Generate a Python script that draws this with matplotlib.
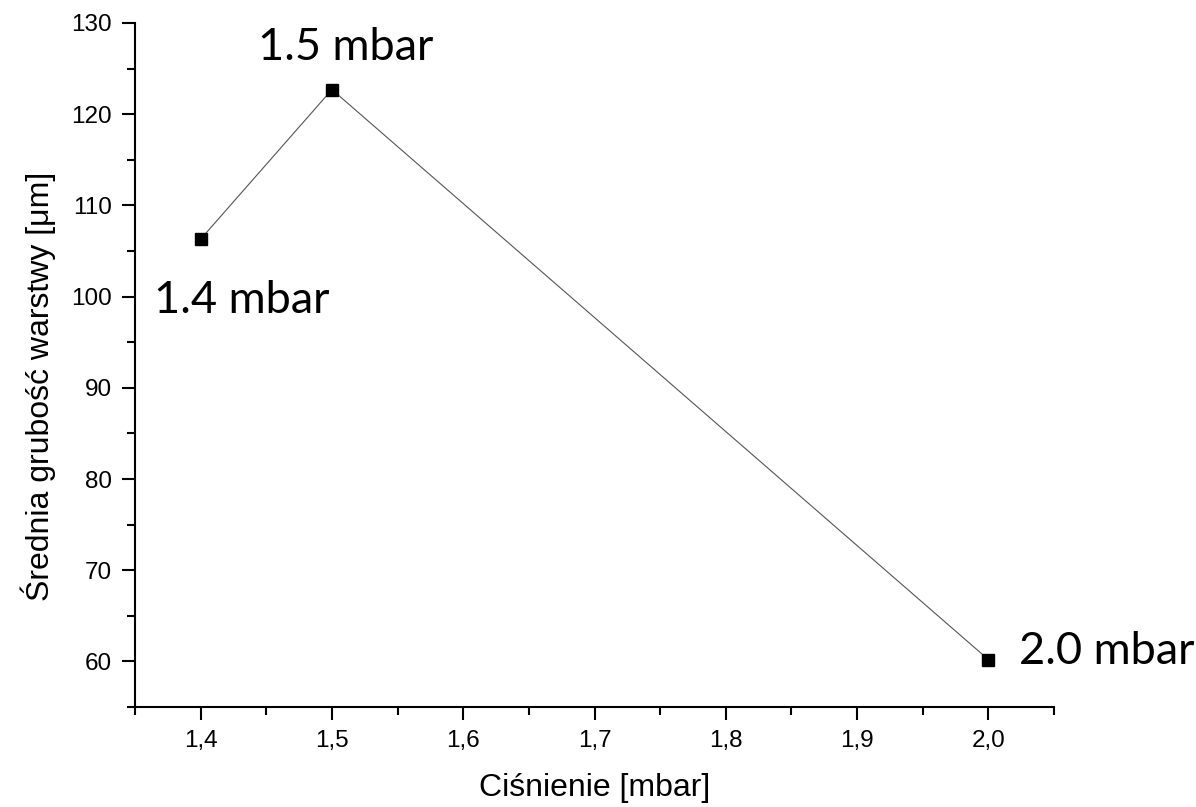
import matplotlib
matplotlib.use("Agg")
import matplotlib.pyplot as plt
from matplotlib.ticker import MultipleLocator, FuncFormatter

pressure = [1.4, 1.5, 2.0]
thickness = [106.3, 122.7, 60.2]
point_labels = ["1.4 mbar", "1.5 mbar", "2.0 mbar"]
# label offsets in pixels from each point (dx, dy)
label_offsets = [(41, -61), (14, 42), (31, 8)]
label_align = ["center", "center", "left"]

plt.rcParams["font.family"] = ["Liberation Sans", "DejaVu Sans"]

fig = plt.figure(figsize=(11.96, 8.07), dpi=100)
ax = fig.add_axes([0.1129, 0.1239, 0.7684, 0.8476])

ax.plot(pressure, thickness, color="#555555", linewidth=0.8, marker="s",
        markersize=9, markerfacecolor="black", markeredgecolor="black")

for x, y, text, (dx, dy), ha in zip(pressure, thickness, point_labels, label_offsets, label_align):
    ax.annotate(text, (x, y), xytext=(dx, dy), textcoords="offset pixels",
                ha=ha, va="center", fontsize=32.5, family=["Lato", "DejaVu Sans"])

ax.set_xlim(1.35, 2.05)
ax.set_ylim(55, 130)
ax.xaxis.set_major_locator(MultipleLocator(0.1))
ax.xaxis.set_minor_locator(MultipleLocator(0.05))
ax.yaxis.set_major_locator(MultipleLocator(10))
ax.yaxis.set_minor_locator(MultipleLocator(5))
ax.xaxis.set_major_formatter(FuncFormatter(lambda v, p: f"{v:.1f}".replace(".", ",")))
ax.yaxis.set_major_formatter(FuncFormatter(lambda v, p: f"{v:.0f}"))

for side in ("top", "right"):
    ax.spines[side].set_visible(False)
for side in ("left", "bottom"):
    ax.spines[side].set_linewidth(1.5)

ax.tick_params(which="major", direction="out", length=9.5, width=1.5, labelsize=17.5, pad=7)
ax.tick_params(which="minor", direction="out", length=5.5, width=1.5)

ax.set_xlabel("Ciśnienie [mbar]", fontsize=23, labelpad=15)
ax.set_ylabel("Średnia grubość warstwy [μm]", fontsize=23, labelpad=11)
ax.yaxis.label.set_y(0.469)

fig.savefig("out.png", dpi=100)
